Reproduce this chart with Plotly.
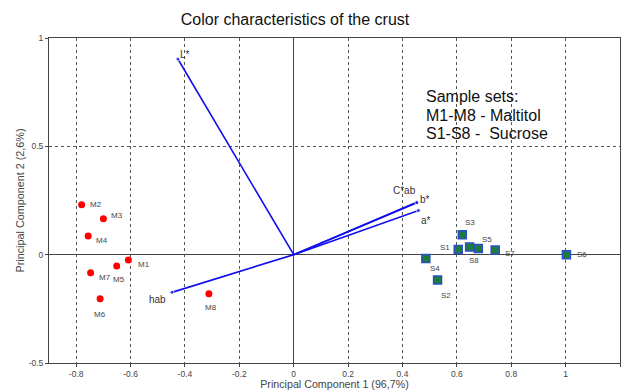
import plotly.graph_objects as go

# Scores of the maltitol samples
m_names = ["M1", "M2", "M3", "M4", "M5", "M6", "M7", "M8"]
m_pc1 = [-0.608, -0.780, -0.700, -0.756, -0.651, -0.712, -0.747, -0.312]
m_pc2 = [-0.025, 0.230, 0.166, 0.086, -0.052, -0.203, -0.083, -0.180]

# Scores of the sucrose samples
s_names = ["S1", "S2", "S3", "S4", "S5", "S6", "S7", "S8"]
s_pc1 = [0.605, 0.529, 0.620, 0.486, 0.679, 1.003, 0.741, 0.647]
s_pc2 = [0.024, -0.117, 0.092, -0.018, 0.028, 0.000, 0.021, 0.035]

# Loadings of the colour variables
v_names = ["L*", "C*ab", "b*", "a*", "hab"]
v_pc1 = [-0.426, 0.452, 0.453, 0.459, -0.448]
v_pc2 = [0.903, 0.242, 0.240, 0.204, -0.174]

x_ticks = [-0.8, -0.6, -0.4, -0.2, 0, 0.2, 0.4, 0.6, 0.8, 1, 1.2]
x_tick_text = ["-0.8", "-0.6", "-0.4", "-0.2", "0", "0.2", "0.4", "0.6", "0.8", "1", "1.2"]
y_ticks = [-0.5, 0, 0.5, 1]
y_tick_text = ["-0.5", "0", "0.5", "1"]

note_lines = ["Sample sets:", "M1-M8 - Maltitol", "S1-S8 -  Sucrose"]

FONT = "Liberation Sans, Arial, sans-serif"
LABEL_GREY = "#444444"

fig = go.Figure()

# Loading vectors drawn from the origin
for name, vx, vy in zip(v_names, v_pc1, v_pc2):
    fig.add_trace(go.Scatter(
        x=[0, vx], y=[0, vy], mode="lines+markers",
        line=dict(color="#1010ee", width=1.6),
        marker=dict(size=[0, 4], color="#1010ee"),
        hoverinfo="skip", showlegend=False,
    ))

fig.add_trace(go.Scatter(
    x=m_pc1, y=m_pc2, mode="markers",
    marker=dict(symbol="circle", size=7, color="#ff0000"),
    showlegend=False,
))
fig.add_trace(go.Scatter(
    x=s_pc1, y=s_pc2, mode="markers",
    marker=dict(symbol="square", size=8, color="#1e7b3a",
                line=dict(color="#2a4fd0", width=1.5)),
    showlegend=False,
))

# Point label offsets (pixels)
m_off = {
    "M1": (16, -4), "M2": (14, 0), "M3": (14, 3), "M4": (14, -4),
    "M5": (2, -14), "M6": (0, -16), "M7": (14, -5), "M8": (2, -14),
}
s_off = {
    "S1": (-13, 2), "S2": (8, -15), "S3": (8, 12), "S4": (9, -10),
    "S5": (9, 9), "S6": (16, 0), "S7": (15, -3), "S8": (4, -13),
}
for n, x, y in zip(m_names, m_pc1, m_pc2):
    dx, dy = m_off[n]
    fig.add_annotation(x=x, y=y, text=n, showarrow=False, xshift=dx, yshift=dy,
                       font=dict(size=8, color=LABEL_GREY, family=FONT))
for n, x, y in zip(s_names, s_pc1, s_pc2):
    dx, dy = s_off[n]
    fig.add_annotation(x=x, y=y, text=n, showarrow=False, xshift=dx, yshift=dy,
                       font=dict(size=8, color=LABEL_GREY, family=FONT))

v_off = {"L*": (7, 5), "C*ab": (-12, 12), "b*": (8, 3), "a*": (7, -10), "hab": (-14, -7)}
for n, x, y in zip(v_names, v_pc1, v_pc2):
    dx, dy = v_off[n]
    fig.add_annotation(x=x, y=y, text=n, showarrow=False, xshift=dx, yshift=dy,
                       font=dict(size=10, color="#333333", family=FONT))

# Sample set note, one annotation per line for tight line spacing
for i, line in enumerate(note_lines):
    fig.add_annotation(
        xref="paper", yref="paper", x=0.657, y=0.8185 - i * 0.0565,
        xanchor="left", yanchor="middle", text=line, showarrow=False,
        font=dict(size=16, color="#111111", family=FONT),
    )

# Vertical axis title placed explicitly
fig.add_annotation(
    xref="paper", yref="paper", x=-0.0525, y=0.5, xanchor="center", yanchor="middle",
    text="Principal Component 2 (2,6%)", textangle=-90, showarrow=False,
    font=dict(size=10.8, color="#444444", family=FONT),
)

axis_common = dict(
    showgrid=True, gridcolor="#555555", griddash="dot", gridwidth=1,
    zeroline=True, zerolinecolor="#444444", zerolinewidth=1,
    showline=True, linecolor="#444444", linewidth=1, mirror=True,
    ticks="outside", ticklen=3, tickcolor="#444444",
    tickfont=dict(size=8.5, color="#444444", family=FONT),
    automargin=False,
)

fig.update_layout(
    width=625, height=390,
    margin=dict(l=49, r=5, t=38, b=27),
    paper_bgcolor="white", plot_bgcolor="white",
    title=dict(text="Color characteristics of the crust", x=0.472, xanchor="center",
               y=0.95, yanchor="middle",
               font=dict(size=16, color="#111111", family=FONT)),
    xaxis=dict(range=[-0.9, 1.2], tickvals=x_ticks, ticktext=x_tick_text,
               title=dict(text="Principal Component 1 (96,7%)", standoff=2,
                          font=dict(size=10.7, color="#444444", family=FONT)),
               **axis_common),
    yaxis=dict(range=[-0.5, 1], tickvals=y_ticks, ticktext=y_tick_text,
               **axis_common),
)

fig.write_html("out.html")
